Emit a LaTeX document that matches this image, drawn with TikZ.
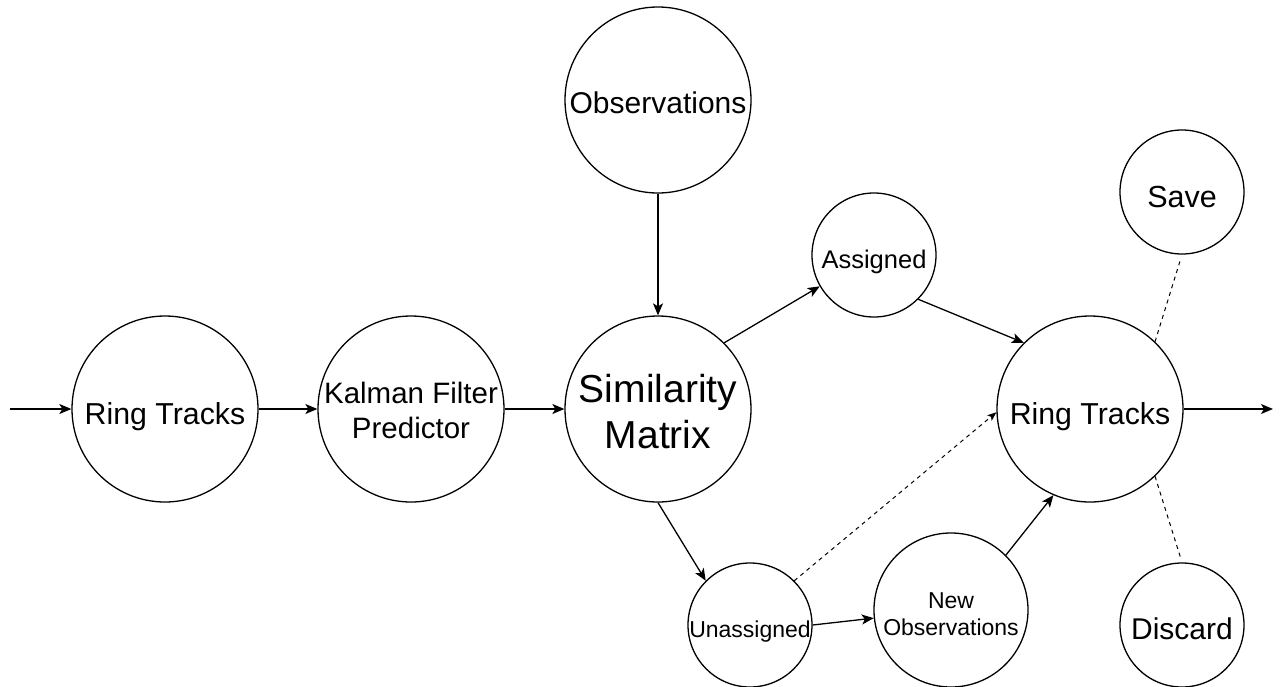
\documentclass[tikz,border=0pt]{standalone}
\usepackage{fontspec}
\setmainfont{Liberation Sans}
\usetikzlibrary{arrows.meta}
\newcommand{\fsz}[2]{\fontsize{#1}{#2}\selectfont}
\begin{document}
\begin{tikzpicture}[x=1pt,y=-1pt,
  circ/.style={circle,draw,line width=1.3pt,inner sep=0pt,minimum size=#1},
  lab/.style={align=center,inner sep=0pt,text height=0pt,text depth=0pt},
  arr/.style={line width=1.3pt,-{Stealth[length=12pt,width=10pt,inset=3pt]}},
  darr/.style={line width=1pt,dash pattern=on 4pt off 4pt,-{Stealth[length=9pt,width=7pt,inset=2pt]}},
  dline/.style={line width=1pt,dash pattern=on 4pt off 4pt}
]
\useasboundingbox (0,0) rectangle (1283,686);

\node[circ=186pt,label={[lab,font=\fsz{30.3}{36},yshift=-15pt]center:Ring Tracks}] (rt1) at (165,409) {};
\node[circ=186pt,label={[lab,font=\fsz{29.5}{35},yshift=-29pt]center:Kalman Filter\\Predictor}] (kf) at (411,409) {};
\node[circ=186pt,label={[lab,font=\fsz{39}{46},yshift=-39pt]center:Similarity\\Matrix}] (sm) at (658,409) {};
\node[circ=186pt,label={[lab,font=\fsz{30}{35},yshift=-13pt]center:Observations}] (obs) at (658,100) {};
\node[circ=124pt,label={[lab,font=\fsz{25.5}{29},yshift=-13pt]center:Assigned}] (as) at (874,255) {};
\node[circ=124pt,label={[lab,font=\fsz{23}{27},yshift=-12pt]center:Unassigned}] (un) at (750,625) {};
\node[circ=154pt,label={[lab,font=\fsz{23}{27},yshift=-25pt]center:New\\Observations}] (no) at (951,610) {};
\node[circ=186pt,label={[lab,font=\fsz{30.3}{36},yshift=-15pt]center:Ring Tracks}] (rt2) at (1090,409) {};
\node[circ=124pt,label={[lab,font=\fsz{30.5}{35},yshift=-15pt]center:Save}] (save) at (1182,192) {};
\node[circ=124pt,label={[lab,font=\fsz{30}{35},yshift=-14pt]center:Discard}] (disc) at (1182,625) {};

\coordinate (in) at (10,409);
\coordinate (out) at (1273,409);

\draw[arr] (in) -- (rt1);
\draw[arr] (rt1) -- (kf);
\draw[arr] (kf) -- (sm);
\draw[arr] (obs) -- (sm);
\draw[arr] (sm.45) -- (as.210);
\draw[arr] (as.-45) -- (rt2.135);
\draw[arr] (sm.-90) -- (un.135);
\draw[arr] (un.0) -- (no.186);
\draw[darr] (un.45) -- (rt2.182);
\draw[arr] (no.45) -- (rt2.247);
\draw[arr] (rt2) -- (out);
\draw[dline,shorten >=5pt] (rt2.46) -- (save.-90);
\draw[dline,shorten >=4pt] (rt2.-46) -- (disc.90);
\end{tikzpicture}
\end{document}
